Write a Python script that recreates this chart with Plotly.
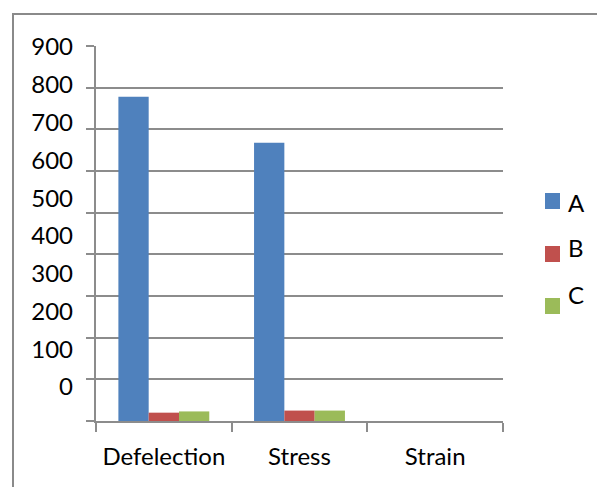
import plotly.graph_objects as go

categories = ["Defelection", "Stress", "Strain"]
series_names = ["A", "B", "C"]
values_a = [778, 668, 0]
values_b = [20, 25, 0]
values_c = [23, 25, 0]
colors = ["#4F81BD", "#C0504D", "#9BBB59"]
tick_values = [0, 100, 200, 300, 400, 500, 600, 700, 800, 900]
tick_labels = [str(v) for v in tick_values]

W, H = 597, 487
L, R, T, B = 96, 94, 46, 66
PW, PH = W - L - R, H - T - B

FONT = "Lato"
FS = 24
GRID = "#8C8C8C"

fig = go.Figure()
for name, vals, col in zip(series_names, [values_a, values_b, values_c], colors):
    fig.add_trace(go.Bar(x=categories, y=vals, name=name, marker_color=col,
                         marker_line_width=0, showlegend=False))

# companion trace that carries the left-hand value labels
fig.add_trace(go.Scatter(x=[categories[0]], y=[None], yaxis="y2", mode="markers",
                         showlegend=False, hoverinfo="skip"))


def px_x(p):
    return (p - L) / PW


def px_y(p):
    return (H - B - p) / PH


shapes = [
    # outer chart frame
    dict(type="rect", xref="paper", yref="paper",
         x0=px_x(13), x1=px_x(W + 10), y0=px_y(14), y1=px_y(H + 10),
         line=dict(color="#8A8A8A", width=2), fillcolor="rgba(0,0,0,0)", layer="below"),
]
annotations = []
legend_sq = [(193, 209), (246, 262), (298, 314)]
legend_txt = [202, 247, 294]
for name, col, (y0, y1), ty in zip(series_names, colors, legend_sq, legend_txt):
    shapes.append(dict(type="rect", xref="paper", yref="paper",
                       x0=px_x(545), x1=px_x(560), y0=px_y(y1), y1=px_y(y0),
                       line=dict(width=0), fillcolor=col))
    annotations.append(dict(text=name, xref="paper", yref="paper", x=px_x(566), y=px_y(ty),
                            xanchor="left", yanchor="middle", showarrow=False,
                            font=dict(family=FONT, size=FS, color="#000000")))

fig.update_layout(
    width=W, height=H,
    margin=dict(l=L, r=R, t=T, b=B),
    paper_bgcolor="white", plot_bgcolor="white",
    barmode="group", bargap=0.33, bargroupgap=0,
    font=dict(family=FONT, size=FS, color="#000000"),
    xaxis=dict(type="category", tickson="boundaries", ticks="outside", ticklen=9,
               tickcolor=GRID, tickwidth=2, showline=True, linecolor=GRID, linewidth=2,
               showgrid=False, tickfont=dict(family=FONT, size=FS), ticklabelstandoff=13),
    yaxis=dict(range=[0, 900], tickvals=tick_values, showticklabels=False,
               ticks="outside", ticklen=8, tickcolor=GRID, tickwidth=2,
               showgrid=True, gridcolor=GRID, gridwidth=2,
               showline=True, linecolor=GRID, linewidth=2, zeroline=False),
    yaxis2=dict(overlaying="y", side="left", range=[-90, 902.6], tickvals=tick_values,
                ticktext=tick_labels, showgrid=False, zeroline=False, showline=False,
                ticks="", ticklabelstandoff=22, tickfont=dict(family=FONT, size=FS)),
    shapes=shapes,
    annotations=annotations,
    showlegend=False,
)

fig.write_html("out.html")
